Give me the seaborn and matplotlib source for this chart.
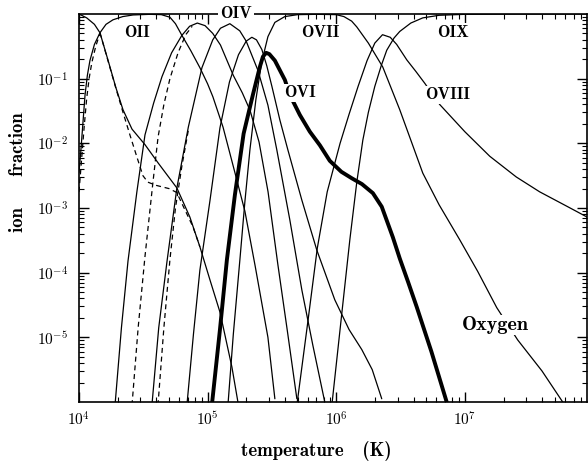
import numpy as np
import pandas as pd
import matplotlib
matplotlib.use('Agg')
import matplotlib.pyplot as plt
import seaborn as sns
from matplotlib.ticker import LogLocator, NullFormatter

# values: log10 T (K) and log10 ion fraction
oi_t = [4.00, 4.06, 4.12, 4.163, 4.225, 4.287, 4.342, 4.412, 4.513, 4.614, 4.761, 4.862, 4.94, 5.018, 5.096, 5.189, 5.24]
oi_f = [0.0, -0.06, -0.16, -0.29, -0.71, -1.14, -1.48, -1.78, -2.02, -2.30, -2.69, -3.14, -3.60, -4.11, -4.61, -5.46, -6.05]
oi_dash_t = [4.163, 4.225, 4.287, 4.342, 4.396, 4.45, 4.497, 4.535, 4.60, 4.70, 4.76, 4.824, 4.886, 4.94]
oi_dash_f = [-0.29, -0.72, -1.15, -1.52, -1.87, -2.21, -2.50, -2.60, -2.65, -2.70, -2.76, -3.03, -3.29, -3.60]

oii_t = [4.0, 4.015, 4.03, 4.047, 4.065, 4.085, 4.12, 4.163, 4.21, 4.264, 4.34, 4.42, 4.55, 4.64, 4.707, 4.75, 4.80,
         4.87, 4.94, 5.0, 5.041, 5.12, 5.212, 5.29, 5.37, 5.469, 5.523]
oii_f = [-2.45, -2.1, -1.7, -1.25, -0.95, -0.72, -0.47, -0.29, -0.16, -0.09, -0.04, -0.015, -0.005, -0.01, -0.05,
         -0.15, -0.33, -0.57, -0.83, -1.08, -1.28, -1.75, -2.45, -3.05, -3.90, -5.0, -5.95]
oii_dash_t = [4.0, 4.02, 4.04, 4.06, 4.08, 4.10, 4.13, 4.163]
oii_dash_f = [-2.75, -2.25, -1.75, -1.3, -0.98, -0.75, -0.5, -0.3]

oiii_t = [4.28, 4.33, 4.381, 4.45, 4.513, 4.58, 4.645, 4.72, 4.80, 4.86, 4.92, 4.98, 5.04, 5.10, 5.20, 5.27, 5.33,
          5.40, 5.47, 5.546, 5.62, 5.694]
oiii_f = [-6.05, -4.85, -3.82, -2.75, -1.87, -1.38, -0.97, -0.60, -0.33, -0.19, -0.14, -0.18, -0.30, -0.48, -0.95,
          -1.22, -1.49, -1.98, -2.75, -3.87, -4.90, -5.95]
oiii_dash_t = [4.412, 4.46, 4.513, 4.575, 4.615, 4.66, 4.707, 4.77, 4.83, 4.88]
oiii_dash_f = [-6.05, -4.85, -3.75, -2.60, -1.90, -1.40, -1.00, -0.60, -0.32, -0.19]

oiv_t = [4.567, 4.62, 4.684, 4.761, 4.85, 4.956, 5.04, 5.10, 5.173, 5.25, 5.30, 5.391, 5.469, 5.538, 5.639, 5.733,
         5.818, 5.911]
oiv_f = [-6.05, -4.85, -3.83, -2.69, -1.75, -0.83, -0.40, -0.22, -0.15, -0.26, -0.42, -0.87, -1.41, -2.10, -3.18,
         -4.27, -5.12, -6.0]
oiv_dash_t = [4.614, 4.66, 4.707, 4.75, 4.80, 4.85]
oiv_dash_f = [-6.05, -4.85, -3.80, -3.0, -2.35, -1.80]

ov_t = [4.839, 4.89, 4.94, 5.018, 5.096, 5.17, 5.24, 5.30, 5.344, 5.38, 5.422, 5.46, 5.50, 5.562, 5.624, 5.733,
        5.849, 5.989, 6.10, 6.199, 6.28, 6.354]
ov_f = [-6.05, -4.95, -3.96, -2.89, -1.76, -1.05, -0.63, -0.42, -0.36, -0.40, -0.55, -0.80, -1.12, -1.64, -2.10,
        -2.88, -3.65, -4.42, -4.88, -5.19, -5.50, -5.95]

ovi_t = [5.033, 5.096, 5.15, 5.212, 5.28, 5.352, 5.406, 5.43, 5.455, 5.48, 5.523, 5.601, 5.639, 5.717, 5.795,
         5.873, 5.95, 6.04, 6.121, 6.20, 6.285, 6.354, 6.44, 6.494, 6.56, 6.626, 6.74, 6.859]
ovi_f = [-6.05, -4.88, -3.80, -2.80, -1.85, -1.25, -0.82, -0.66, -0.60, -0.62, -0.72, -1.02, -1.25, -1.56, -1.82,
         -2.03, -2.27, -2.44, -2.54, -2.63, -2.77, -2.98, -3.45, -3.78, -4.15, -4.53, -5.22, -6.0]

ovii_t = [5.158, 5.20, 5.251, 5.29, 5.329, 5.375, 5.42, 5.469, 5.523, 5.60, 5.70, 5.85, 6.0, 6.06, 6.12, 6.16,
          6.25, 6.362, 6.494, 6.58, 6.673, 6.80, 6.96, 7.1, 7.248, 7.411, 7.60, 7.761]
ovii_f = [-6.05, -4.95, -3.80, -2.90, -2.10, -1.33, -0.75, -0.35, -0.13, -0.04, -0.01, -0.005, -0.01, -0.04,
          -0.11, -0.20, -0.45, -0.82, -1.48, -1.95, -2.46, -2.95, -3.49, -3.98, -4.54, -5.04, -5.52, -6.0]

oviii_t = [5.694, 5.78, 5.853, 5.93, 6.03, 6.10, 6.17, 6.24, 6.30, 6.36, 6.42, 6.47, 6.549, 6.62, 6.688, 6.805,
           7.0, 7.194, 7.4, 7.582, 7.80, 7.96]
oviii_f = [-6.05, -4.75, -3.62, -2.75, -2.00, -1.55, -1.12, -0.72, -0.45, -0.32, -0.36, -0.47, -0.71, -0.89,
           -1.07, -1.40, -1.82, -2.20, -2.52, -2.75, -2.98, -3.15]

oix_t = [5.966, 6.044, 6.106, 6.16, 6.207, 6.25, 6.30, 6.35, 6.393, 6.45, 6.494, 6.58, 6.673, 6.8, 7.0, 7.5, 7.96]
oix_f = [-6.05, -4.62, -3.49, -2.60, -1.95, -1.52, -1.12, -0.80, -0.56, -0.37, -0.27, -0.14, -0.06, -0.02,
         -0.005, 0.0, 0.0]

# ion labels: (text, log T, log fraction)
ion_labels = [('OII', 4.45, -0.28), ('OVII', 5.873, -0.29), ('OIX', 6.906, -0.28),
              ('OVI', 5.717, -1.22), ('OVIII', 6.87, -1.25)]
xtick_vals = [1e4, 1e5, 1e6, 1e7]
xtick_labels = [r'$10^{4}$', r'$10^{5}$', r'$10^{6}$', r'$10^{7}$']
ytick_vals = [1e-5, 1e-4, 1e-3, 1e-2, 1e-1]
ytick_labels = [r'$10^{-5}$', r'$10^{-4}$', r'$10^{-3}$', r'$10^{-2}$', r'$10^{-1}$']

curves = [
    ('OI', oi_t, oi_f, '-', 0.9), ('OI dashed', oi_dash_t, oi_dash_f, '--', 0.9),
    ('OII', oii_t, oii_f, '-', 0.9), ('OII dashed', oii_dash_t, oii_dash_f, '--', 0.9),
    ('OIII', oiii_t, oiii_f, '-', 0.9), ('OIII dashed', oiii_dash_t, oiii_dash_f, '--', 0.9),
    ('OIV', oiv_t, oiv_f, '-', 0.9), ('OIV dashed', oiv_dash_t, oiv_dash_f, '--', 0.9),
    ('OV', ov_t, ov_f, '-', 0.9), ('OVI', ovi_t, ovi_f, '-', 2.8),
    ('OVII', ovii_t, ovii_f, '-', 0.9), ('OVIII', oviii_t, oviii_f, '-', 0.9),
    ('OIX', oix_t, oix_f, '-', 0.9),
]

rows = []
for name, t, f, ls, lw in curves:
    for i, (a, b) in enumerate(zip(t, f)):
        rows.append({'curve': name, 'order': i, 'T': 10 ** a, 'frac': 10 ** b})
df = pd.DataFrame(rows)

sns.set_style('ticks')
plt.rcParams['mathtext.fontset'] = 'cm'
plt.rcParams['font.family'] = ['DejaVu Serif']
plt.rcParams['text.color'] = 'black'
plt.rcParams['axes.labelcolor'] = 'black'
lab_font = 'cmb10'

fig = plt.figure(figsize=(5.88, 4.61), dpi=100)
ax = fig.add_axes([79 / 588, 59 / 461, 508 / 588, 388 / 461])
ax.set_xscale('log')
ax.set_yscale('log')

for name, t, f, ls, lw in curves:
    sub = df[df['curve'] == name]
    style = (0, (4, 3)) if ls == '--' else '-'
    sns.lineplot(data=sub, x='T', y='frac', sort=False, estimator=None, color='black',
                 linewidth=lw, linestyle=style, ax=ax)

ax.set_xlim(1e4, 10 ** 7.95)
ax.set_ylim(1e-6, 1.0)

ax.set_xticks(xtick_vals)
ax.set_xticklabels(xtick_labels, fontsize=11)
ax.set_yticks(ytick_vals)
ax.set_yticklabels(ytick_labels, fontsize=11)
ax.xaxis.set_minor_locator(LogLocator(base=10, subs=np.arange(2, 10), numticks=20))
ax.yaxis.set_minor_locator(LogLocator(base=10, subs=np.arange(2, 10), numticks=20))
ax.xaxis.set_minor_formatter(NullFormatter())
ax.yaxis.set_minor_formatter(NullFormatter())
ax.tick_params(which='both', direction='in', top=True, right=True, colors='black')
ax.tick_params(which='major', length=7, width=1.0)
ax.tick_params(which='minor', length=3.5, width=0.8)
ax.tick_params(axis='y', which='major', pad=8)
ax.tick_params(axis='x', which='major', pad=6)
for s in ax.spines.values():
    s.set_linewidth(1.2)
    s.set_color('black')

box = dict(facecolor='white', edgecolor='none', pad=1.0)
for txt, lt, lf in ion_labels:
    ax.text(10 ** lt, 10 ** lf, txt, family=lab_font, fontsize=12, ha='center', va='center',
            color='black', bbox=box, zorder=5)
ax.text(10 ** 5.22, 1.0, 'OIV', family=lab_font, fontsize=12, ha='center', va='center', color='black',
        bbox=dict(facecolor='white', edgecolor='none', pad=1.5), zorder=6, clip_on=False)
ax.text(10 ** 7.24, 10 ** -4.81, 'Oxygen', family=lab_font, fontsize=14.5, ha='center', va='center',
        color='black', bbox=box, zorder=5)

ax.set_xlabel('temperature   (K)', family=lab_font, fontsize=13.5, color='black')
ax.set_ylabel('ion     fraction', family=lab_font, fontsize=13.5, color='black')
ax.xaxis.set_label_coords(0.468, -0.100)
ax.yaxis.set_label_coords(-0.102, 0.593)

fig.savefig('out.png', dpi=100)
